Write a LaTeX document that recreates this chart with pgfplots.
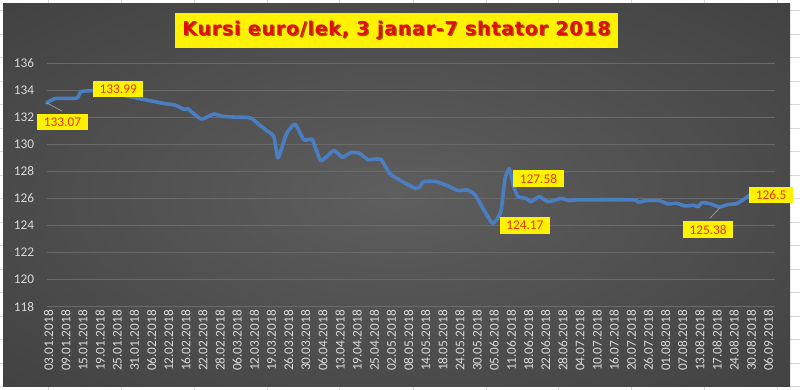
\documentclass[border=0pt]{standalone}
\usepackage{pgfplots}
\pgfplotsset{compat=1.18}
\usepackage{fontspec}
\setmainfont{Carlito}
\newfontfamily\titlefont{DejaVu Sans}[LetterSpace=4]
\definecolor{lineblue}{HTML}{4A7EC1}
\definecolor{gridc}{HTML}{6A6A6A}
\definecolor{tickc}{HTML}{D9D9D9}
\definecolor{lblred}{HTML}{E8340C}
\definecolor{ttlred}{HTML}{E00F0F}
\definecolor{ttlshadow}{HTML}{9A6A10}
\definecolor{bgin}{HTML}{5E5E5E}
\definecolor{bgmid}{HTML}{363636}
\definecolor{bgout}{HTML}{242424}
\definecolor{cellc}{HTML}{D8D8D8}
\pgfdeclareradialshading{chartbg}{\pgfpoint{0bp}{0bp}}{color(0bp)=(bgin); color(50bp)=(bgmid); color(72bp)=(bgout)}
\begin{document}
\begin{tikzpicture}
\path[use as bounding box] (0pt,0pt) rectangle (800pt,390pt);
\fill[white] (0pt,0pt) rectangle (800pt,390pt);
\foreach \xx in {48,121,194,267,339,413,486,558,631,704,777} {\draw[cellc,line width=0.8pt] (\xx pt,0pt)--(\xx pt,390pt);}
\foreach \yy in {10.5,34,57.5,81,104.5,128,151.5,175,198,222,245.5,269,292.5,316,339.5,363,386.5} {\draw[cellc,line width=0.8pt] (0pt,390pt-\yy pt)--(800pt,390pt-\yy pt);}
\shade[shading=chartbg] (3pt,3pt) rectangle (790pt,386pt);
% title
\node[fill=yellow, minimum width=443pt, minimum height=34.4pt, inner sep=0pt] at (396.5pt,359.5pt) {};
\node[text=ttlshadow, font=\titlefont\bfseries\fontsize{19}{22}\selectfont] at (397.7pt,358.3pt) {Kursi euro/lek, 3 janar-7 shtator 2018};
\node[text=ttlred, font=\titlefont\bfseries\fontsize{19}{22}\selectfont] at (396.5pt,359.5pt) {Kursi euro/lek, 3 janar-7 shtator 2018};
\begin{axis}[
  at={(46.7pt,83.3pt)}, anchor=south west,
  scale only axis, width=728.3pt, height=243.4pt,
  xmin=0, xmax=170, ymin=118, ymax=136,
  ytick={118,120,...,136},
  xtick={0,4,...,168},
  xticklabels={03.01.2018,09.01.2018,15.01.2018,19.01.2018,25.01.2018,31.01.2018,06.02.2018,12.02.2018,16.02.2018,22.02.2018,28.02.2018,06.03.2018,12.03.2018,19.03.2018,26.03.2018,30.03.2018,06.04.2018,13.04.2018,19.04.2018,25.04.2018,02.05.2018,08.05.2018,14.05.2018,18.05.2018,24.05.2018,30.05.2018,05.06.2018,11.06.2018,18.06.2018,22.06.2018,28.06.2018,04.07.2018,10.07.2018,16.07.2018,20.07.2018,26.07.2018,01.08.2018,07.08.2018,13.08.2018,17.08.2018,24.08.2018,30.08.2018,06.09.2018},
  ymajorgrids, grid style={gridc, line width=0.8pt},
  axis line style={draw=none},
  major tick length=0pt,
  tick label style={text=tickc, font=\fontsize{13.3}{15}\selectfont},
  /pgf/number format/assume math mode=true,
  xticklabel style={rotate=90, anchor=east, yshift=-2pt, xshift=0pt},
  yticklabel style={anchor=east, xshift=-9pt},
  clip=false,
]
\addplot[lineblue, line width=3.6pt, line join=round, line cap=round, smooth, tension=0.3] coordinates {
(0,133.07) (2,133.40) (7,133.42) (8,133.90) (11,133.99) (14,133.92) (17,133.70) (20,133.50)
(23,133.30) (26,133.12) (27,133.05) (30,132.90) (32,132.60) (33,132.64) (34,132.35) (36,131.88)
(37,131.95) (39,132.25) (41,132.08) (44,132.02) (47,132.00) (48,131.88) (49,131.62) (51,131.10)
(53,130.60) (54,129.00) (56,130.80) (58,131.50) (60,130.35) (62,130.35) (64,128.80) (67,129.55)
(69,129.05) (71,129.40) (73,129.35) (75,128.88) (78,128.90) (80,127.87) (83,127.25) (86,126.76)
(87,126.84) (88,127.25) (91,127.25) (94,126.88) (96,126.58) (98,126.63) (100,126.27) (104,124.17)
(106,125.03) (107,127.50) (108,128.20) (109,126.90) (110,126.14) (112,126.00) (113,125.75) (115,126.14)
(117,125.77) (120,126.00) (122,125.85) (124,125.90) (137,125.90) (138,125.73) (140,125.85) (143,125.85)
(145,125.60) (147,125.65) (149,125.45) (151,125.50) (152,125.40) (153,125.70) (155,125.60) (157,125.38)
(159,125.55) (161,125.62) (163,126.00) (165,126.45)
};
\draw[gray!70, line width=0.6pt] (axis cs:0,133.07) -- (axis cs:3.5,132.47);
\draw[gray!70, line width=0.6pt] (axis cs:157.2,125.33) -- (axis cs:154.8,124.54);
\tikzset{dl/.style={fill=yellow, text=lblred, font=\fontsize{13.3}{15}\selectfont, inner xsep=6.5pt, inner ysep=0pt, minimum height=16.7pt}}
\node[dl] at (axis cs:3.69,131.66) {133.07};
\node[dl] at (axis cs:16.7,134.1) {133.99};
\node[dl] at (axis cs:111.6,124.0) {124.17};
\node[dl] at (axis cs:114.8,127.46) {127.58};
\node[dl] at (axis cs:154.4,123.69) {125.38};
\node[dl] at (axis cs:169.1,126.26) {126.5};
\end{axis}
\end{tikzpicture}
\end{document}
